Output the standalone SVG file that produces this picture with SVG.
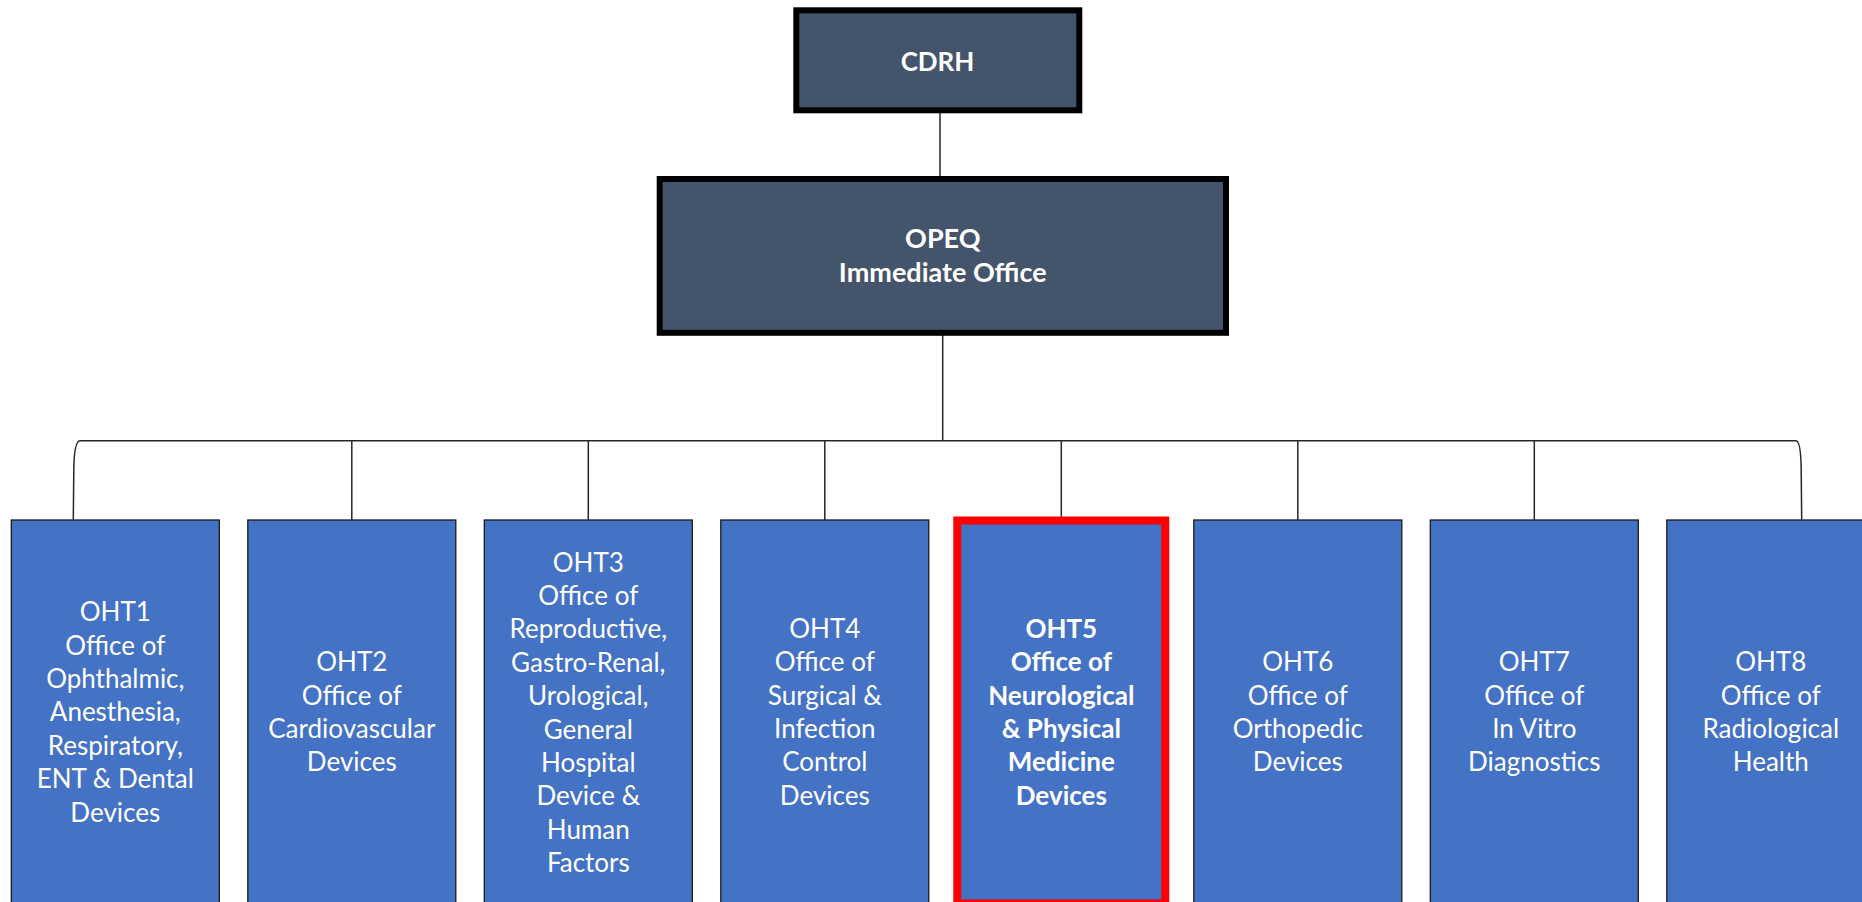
<svg xmlns="http://www.w3.org/2000/svg" width="1862" height="902" viewBox="0 0 1862 902">
  <style>
    .top { fill: #44546A; stroke: #000000; stroke-width: 6; }
    .oht { fill: #4472C4; stroke: #1a1a1a; stroke-width: 1.3; }
    .hl { fill: #4472C4; stroke: #FF0000; stroke-width: 8; }
    .conn { fill: none; stroke: #262626; stroke-width: 1.5; }
    text { font-family: Lato, "Open Sans", "Liberation Sans", sans-serif; fill: #FFFFFF; text-anchor: middle; font-size: 26px; }
    .b { font-weight: bold; }
    .op { font-size: 27px; }
  </style>
  <rect x="0" y="0" width="1862" height="902" fill="#FFFFFF"/>
  <g id="connectors">
    <line class="conn" x1="940" y1="113" x2="940" y2="182"/>
    <line class="conn" x1="942.7" y1="335" x2="942.7" y2="440.7"/>
    <line class="conn" x1="80" y1="440.7" x2="1796" y2="440.7"/>
    <path class="conn" d="M80,440.7 C76,441 74,450 73.8,470 L73.3,520"/>
    <path class="conn" d="M1796,440.7 C1799,441 1801,450 1801.2,470 L1801.7,520"/>
    <line class="conn" x1="351.8" y1="440.7" x2="351.8" y2="520"/>
    <line class="conn" x1="588.3" y1="440.7" x2="588.3" y2="520"/>
    <line class="conn" x1="824.8" y1="440.7" x2="824.8" y2="520"/>
    <line class="conn" x1="1061.3" y1="440.7" x2="1061.3" y2="517"/>
    <line class="conn" x1="1297.8" y1="440.7" x2="1297.8" y2="520"/>
    <line class="conn" x1="1534.3" y1="440.7" x2="1534.3" y2="520"/>
  </g>
  <g id="cdrh">
    <rect class="top" x="796.3" y="10.3" width="283" height="100"/>
    <text class="b" x="937.5" y="70.7">CDRH</text>
  </g>
  <g id="opeq">
    <rect class="top" x="659.7" y="179" width="566.3" height="153.8"/>
    <text class="b op" x="942.8" y="248.3">OPEQ<tspan x="942.8" dy="33.4">Immediate Office</tspan></text>
  </g>
  <g id="oht1">
    <rect class="oht" x="11.3" y="520" width="208" height="383"/>
    <text x="115.3" y="621.15">OHT1<tspan x="115.3" dy="33.4">Office of</tspan><tspan x="115.3" dy="33.4">Ophthalmic,</tspan><tspan x="115.3" dy="33.4">Anesthesia,</tspan><tspan x="115.3" dy="33.4">Respiratory,</tspan><tspan x="115.3" dy="33.4">ENT &amp; Dental</tspan><tspan x="115.3" dy="33.4">Devices</tspan></text>
  </g>
  <g id="oht2">
    <rect class="oht" x="247.8" y="520" width="208" height="383"/>
    <text x="351.8" y="671.25">OHT2<tspan x="351.8" dy="33.4">Office of</tspan><tspan x="351.8" dy="33.4">Cardiovascular</tspan><tspan x="351.8" dy="33.4">Devices</tspan></text>
  </g>
  <g id="oht3">
    <rect class="oht" x="484.3" y="520" width="208" height="383"/>
    <text x="588.3" y="571.5">OHT3<tspan x="588.3" dy="33.4">Office of</tspan><tspan x="588.3" dy="33.4">Reproductive,</tspan><tspan x="588.3" dy="33.4">Gastro-Renal,</tspan><tspan x="588.3" dy="33.4">Urological,</tspan><tspan x="588.3" dy="33.4">General</tspan><tspan x="588.3" dy="33.4">Hospital</tspan><tspan x="588.3" dy="33.4">Device &amp;</tspan><tspan x="588.3" dy="33.4">Human</tspan><tspan x="588.3" dy="33.4">Factors</tspan></text>
  </g>
  <g id="oht4">
    <rect class="oht" x="720.8" y="520" width="208" height="383"/>
    <text x="824.8" y="637.85">OHT4<tspan x="824.8" dy="33.4">Office of</tspan><tspan x="824.8" dy="33.4">Surgical &amp;</tspan><tspan x="824.8" dy="33.4">Infection</tspan><tspan x="824.8" dy="33.4">Control</tspan><tspan x="824.8" dy="33.4">Devices</tspan></text>
  </g>
  <g id="oht5">
    <rect class="hl" x="957.3" y="520.5" width="208" height="383"/>
    <text class="b" x="1061.3" y="637.85">OHT5<tspan x="1061.3" dy="33.4">Office of</tspan><tspan x="1061.3" dy="33.4">Neurological</tspan><tspan x="1061.3" dy="33.4">&amp; Physical</tspan><tspan x="1061.3" dy="33.4">Medicine</tspan><tspan x="1061.3" dy="33.4">Devices</tspan></text>
  </g>
  <g id="oht6">
    <rect class="oht" x="1193.8" y="520" width="208" height="383"/>
    <text x="1297.8" y="671.25">OHT6<tspan x="1297.8" dy="33.4">Office of</tspan><tspan x="1297.8" dy="33.4">Orthopedic</tspan><tspan x="1297.8" dy="33.4">Devices</tspan></text>
  </g>
  <g id="oht7">
    <rect class="oht" x="1430.3" y="520" width="208" height="383"/>
    <text x="1534.3" y="671.25">OHT7<tspan x="1534.3" dy="33.4">Office of</tspan><tspan x="1534.3" dy="33.4">In Vitro</tspan><tspan x="1534.3" dy="33.4">Diagnostics</tspan></text>
  </g>
  <g id="oht8">
    <rect class="oht" x="1666.8" y="520" width="208" height="383"/>
    <text x="1770.8" y="671.25">OHT8<tspan x="1770.8" dy="33.4">Office of</tspan><tspan x="1770.8" dy="33.4">Radiological</tspan><tspan x="1770.8" dy="33.4">Health</tspan></text>
  </g>
</svg>
